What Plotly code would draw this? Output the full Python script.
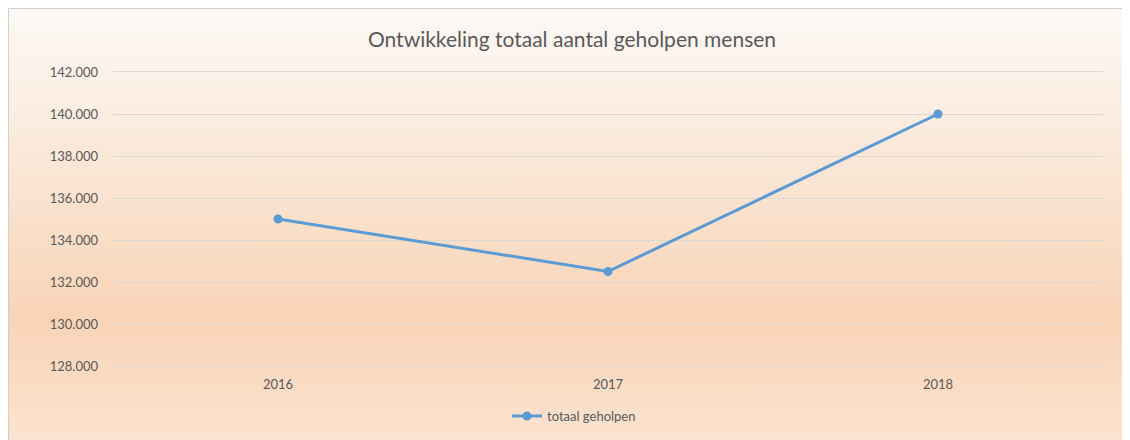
import base64
import plotly.graph_objects as go

years = ["2016", "2017", "2018"]
totaal_geholpen = [135000, 132500, 140000]
y_ticks = [128000, 130000, 132000, 134000, 136000, 138000, 140000, 142000]

# page has an 8px body margin, so the figure is sized/offset to compensate
OFF = 8
W, H = 1130 - OFF, 440 - OFF
L, R, T, B = 113 - OFF, 27, 72 - OFF, 74
pw, ph = W - L - R, H - T - B
GRID = "#dcd8d4"

def px_x(px):
    return (px - OFF - L) / pw

def px_y(py):
    return (H - B - (py - OFF)) / ph

svg = (
    '<svg xmlns="http://www.w3.org/2000/svg" width="100" height="100" preserveAspectRatio="none" viewBox="0 0 100 100">'
    '<defs><linearGradient id="g" x1="0" y1="0" x2="0" y2="1">'
    '<stop offset="0" stop-color="#fdf9f6"/>'
    '<stop offset="0.3" stop-color="#faeadc"/>'
    '<stop offset="0.72" stop-color="#f9d4b7"/>'
    '<stop offset="1" stop-color="#fce3cf"/>'
    '</linearGradient></defs>'
    '<rect width="100" height="100" fill="url(#g)"/></svg>'
)
uri = "data:image/svg+xml;base64," + base64.b64encode(svg.encode()).decode()

fig = go.Figure()
fig.add_trace(go.Scatter(
    x=years, y=totaal_geholpen, mode="lines+markers", name="totaal geholpen",
    line=dict(color="#5b9bd5", width=3),
    marker=dict(color="#5b9bd5", size=9),
    cliponaxis=False,
))

fig.add_layout_image(dict(
    source=uri, xref="paper", yref="paper",
    x=px_x(OFF), y=px_y(OFF), sizex=px_x(1130) - px_x(OFF), sizey=px_y(OFF) - px_y(440),
    xanchor="left", yanchor="top", sizing="stretch", layer="below",
))
fig.add_shape(type="line", xref="paper", yref="paper",
              x0=px_x(OFF + 0.5), x1=px_x(1130), y0=px_y(OFF + 0.5), y1=px_y(OFF + 0.5),
              line=dict(color="#cfcfcf", width=1))
fig.add_shape(type="line", xref="paper", yref="paper",
              x0=px_x(OFF + 0.5), x1=px_x(OFF + 0.5), y0=px_y(OFF + 0.5), y1=px_y(440),
              line=dict(color="#cfcfcf", width=1))

fig.update_layout(
    width=W, height=H,
    margin=dict(l=L, r=R, t=T, b=B, autoexpand=False),
    paper_bgcolor="white", plot_bgcolor="rgba(0,0,0,0)",
    separators=",.",
    font=dict(family="Lato, 'Open Sans', sans-serif", color="#595959", size=13),
    title=dict(text="Ontwikkeling totaal aantal geholpen mensen",
               x=(572 - OFF) / W, xanchor="center", y=1 - (40 - OFF) / H, yanchor="middle",
               font=dict(size=21, color="#595959")),
    showlegend=True,
    legend=dict(orientation="h", x=(574 - OFF - L) / pw, xanchor="center", y=px_y(416), yanchor="middle",
                bgcolor="rgba(0,0,0,0)", font=dict(size=13, color="#595959")),
    xaxis=dict(type="category", range=[-0.5, 2.5], showgrid=False, zeroline=False,
               showline=True, linecolor=GRID, linewidth=1, mirror=True, automargin=False,
               ticks="", ticklabelstandoff=6, tickfont=dict(size=13, color="#595959")),
    yaxis=dict(range=[128000, 142000], tickvals=y_ticks, tickformat=",d",
               showgrid=True, gridcolor=GRID, gridwidth=1, zeroline=False, automargin=False,
               showline=False, ticks="", ticklabelstandoff=14,
               tickfont=dict(size=13, color="#595959")),
)

fig.write_html("out.html")
